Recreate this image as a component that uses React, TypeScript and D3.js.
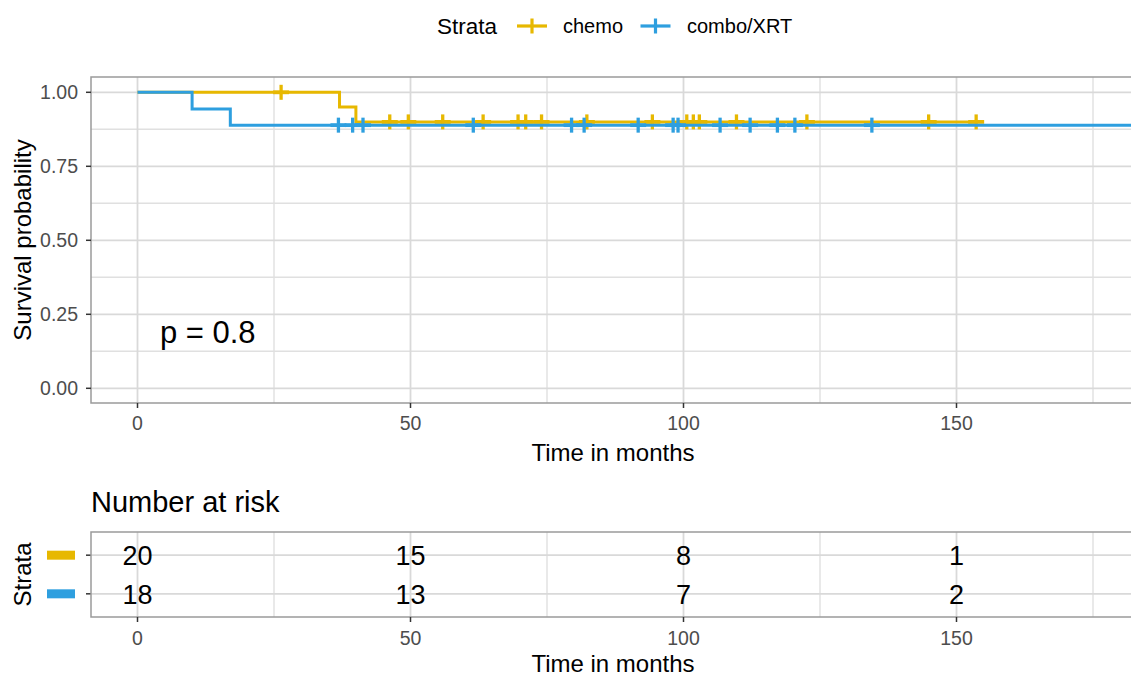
import { useEffect, useRef } from 'react';
import * as d3 from 'd3';

// strata
const strata = ['chemo', 'combo/XRT'];
const colors = ['#E7B800', '#2E9FDF'];

// Kaplan-Meier steps
const chemoStepTimes = [0, 37, 40];
const chemoStepSurv = [1, 0.95, 0.9];
const chemoEnd = 153.6;
const chemoCensor = [26.3, 46.2, 49.6, 55.9, 63.3, 69.7, 71.1, 74.0, 82.3, 94.3, 100.6, 101.8, 102.9, 109.7, 122.6, 144.9, 153.6];

const comboStepTimes = [0, 10, 17];
const comboStepSurv = [1, 0.944, 0.889];
const comboEnd = 190;
const comboCensor = [36.8, 39.4, 41.3, 61.5, 79.5, 81.8, 91.7, 98.1, 99.0, 106.7, 112.2, 117.2, 120.4, 134.5, 185, 190];

// number at risk table
const riskTimes = [0, 50, 100, 150];
const chemoRisk = [20, 15, 8, 1];
const comboRisk = [18, 13, 7, 2];

const xTicks = [0, 50, 100, 150];
const xMinor = [25, 75, 125, 175];
const yTicks = [0, 0.25, 0.5, 0.75, 1];
const yMinor = [0.125, 0.375, 0.625, 0.875];

const FONT = "'Liberation Sans', Arial, Helvetica, sans-serif";

const App = () => {
  const ref = useRef<SVGSVGElement>(null);
  const width = 1131;
  const height = 676;

  useEffect(() => {
    const svg = d3.select(ref.current);
    svg.selectAll('*').remove();

    const panelLeft = 91;
    const panelRight = 1142;
    const mainTop = 77;
    const mainBottom = 403;

    const x = d3.scaleLinear().domain([0, 150]).range([137.5, 956.5]);
    const y = d3.scaleLinear().domain([0, 1]).range([388.3, 92.3]);

    svg.append('defs').append('clipPath').attr('id', 'mainclip')
      .append('rect')
      .attr('x', panelLeft).attr('y', mainTop)
      .attr('width', panelRight - panelLeft).attr('height', mainBottom - mainTop);

    // ---- main panel grid
    const grid = svg.append('g');
    grid.selectAll('line.xmin').data(xMinor).join('line')
      .attr('x1', d => x(d)).attr('x2', d => x(d))
      .attr('y1', mainTop).attr('y2', mainBottom)
      .attr('stroke', '#e0e0e0').attr('stroke-width', 1.4);
    grid.selectAll('line.ymin').data(yMinor).join('line')
      .attr('x1', panelLeft).attr('x2', panelRight)
      .attr('y1', d => y(d)).attr('y2', d => y(d))
      .attr('stroke', '#e0e0e0').attr('stroke-width', 1.4);
    grid.selectAll('line.xmaj').data(xTicks).join('line')
      .attr('x1', d => x(d)).attr('x2', d => x(d))
      .attr('y1', mainTop).attr('y2', mainBottom)
      .attr('stroke', '#d9d9d9').attr('stroke-width', 1.8);
    grid.selectAll('line.ymaj').data(yTicks).join('line')
      .attr('x1', panelLeft).attr('x2', panelRight)
      .attr('y1', d => y(d)).attr('y2', d => y(d))
      .attr('stroke', '#d9d9d9').attr('stroke-width', 1.8);

    // ---- curves
    const curves = [
      { times: chemoStepTimes, surv: chemoStepSurv, end: chemoEnd, censor: chemoCensor },
      { times: comboStepTimes, surv: comboStepSurv, end: comboEnd, censor: comboCensor },
    ];
    const plot = svg.append('g').attr('clip-path', 'url(#mainclip)');
    const line = d3.line<[number, number]>()
      .x(d => x(d[0])).y(d => y(d[1]))
      .curve(d3.curveStepAfter);

    curves.forEach((c, i) => {
      const pts: [number, number][] = c.times.map((t, j) => [t, c.surv[j]]);
      pts.push([c.end, c.surv[c.surv.length - 1]]);
      plot.append('path')
        .attr('d', line(pts))
        .attr('fill', 'none')
        .attr('stroke', colors[i])
        .attr('stroke-width', 3);

      const survAt = (t: number) => c.surv[d3.bisectRight(c.times, t) - 1];
      const marks = plot.append('g').selectAll('g').data(c.censor).join('g')
        .attr('transform', d => `translate(${x(d)},${y(survAt(d))})`);
      marks.append('line').attr('x1', -8).attr('x2', 8).attr('y1', 0).attr('y2', 0)
        .attr('stroke', colors[i]).attr('stroke-width', 3.8);
      marks.append('line').attr('x1', 0).attr('x2', 0).attr('y1', -7.5).attr('y2', 7.5)
        .attr('stroke', colors[i]).attr('stroke-width', 3.3);
    });

    // panel border
    svg.append('rect')
      .attr('x', panelLeft).attr('y', mainTop)
      .attr('width', panelRight - panelLeft).attr('height', mainBottom - mainTop)
      .attr('fill', 'none').attr('stroke', '#9a9a9a').attr('stroke-width', 1.5);

    // y axis
    const yAxis = svg.append('g');
    yAxis.selectAll('line').data(yTicks).join('line')
      .attr('x1', panelLeft - 5).attr('x2', panelLeft)
      .attr('y1', d => y(d)).attr('y2', d => y(d))
      .attr('stroke', '#333').attr('stroke-width', 1.5);
    yAxis.selectAll('text').data(yTicks).join('text')
      .attr('x', 78).attr('y', d => y(d) + 7)
      .attr('text-anchor', 'end')
      .attr('font-size', 19.5).attr('fill', '#4d4d4d')
      .text(d => d3.format('.2f')(d));

    // x axis
    const xAxis = svg.append('g');
    xAxis.selectAll('line').data(xTicks).join('line')
      .attr('x1', d => x(d)).attr('x2', d => x(d))
      .attr('y1', mainBottom).attr('y2', mainBottom + 5)
      .attr('stroke', '#333').attr('stroke-width', 1.5);
    xAxis.selectAll('text').data(xTicks).join('text')
      .attr('x', d => x(d)).attr('y', 430)
      .attr('text-anchor', 'middle')
      .attr('font-size', 19.5).attr('fill', '#4d4d4d')
      .text(d => d);

    svg.append('text')
      .attr('x', 613).attr('y', 461)
      .attr('text-anchor', 'middle').attr('font-size', 24)
      .text('Time in months');

    svg.append('text')
      .attr('transform', `translate(31,${(mainTop + mainBottom) / 2}) rotate(-90)`)
      .attr('text-anchor', 'middle').attr('font-size', 24)
      .text('Survival probability');

    svg.append('text')
      .attr('x', x(4.1)).attr('y', y(0.19) + 11)
      .attr('font-size', 31)
      .text('p = 0.8');

    // ---- legend
    const legend = svg.append('g');
    legend.append('text').attr('x', 437).attr('y', 34).attr('font-size', 22.5).text('Strata');
    const keyX = [532, 655.5];
    const labelX = [563, 687];
    strata.forEach((s, i) => {
      legend.append('line')
        .attr('x1', keyX[i] - 15).attr('x2', keyX[i] + 15).attr('y1', 26).attr('y2', 26)
        .attr('stroke', colors[i]).attr('stroke-width', 3.2);
      legend.append('line')
        .attr('x1', keyX[i]).attr('x2', keyX[i]).attr('y1', 18.5).attr('y2', 33.5)
        .attr('stroke', colors[i]).attr('stroke-width', 3.2);
      legend.append('text').attr('x', labelX[i]).attr('y', 33).attr('font-size', 20).text(s);
    });

    // ---- risk table
    const riskTop = 532;
    const riskBottom = 617;
    const ry = d3.scaleLinear().domain([0.4, 2.6]).range([riskBottom, riskTop]);
    const rows = [2, 1];

    svg.append('text').attr('x', 91).attr('y', 512).attr('font-size', 29).text('Number at risk');

    const rg = svg.append('g');
    rg.selectAll('line.xmin').data(xMinor).join('line')
      .attr('x1', d => x(d)).attr('x2', d => x(d))
      .attr('y1', riskTop).attr('y2', riskBottom)
      .attr('stroke', '#e0e0e0').attr('stroke-width', 1.4);
    rg.selectAll('line.xmaj').data(xTicks).join('line')
      .attr('x1', d => x(d)).attr('x2', d => x(d))
      .attr('y1', riskTop).attr('y2', riskBottom)
      .attr('stroke', '#d9d9d9').attr('stroke-width', 1.8);
    rg.selectAll('line.row').data(rows).join('line')
      .attr('x1', panelLeft).attr('x2', panelRight)
      .attr('y1', d => ry(d)).attr('y2', d => ry(d))
      .attr('stroke', '#d9d9d9').attr('stroke-width', 1.8);

    [chemoRisk, comboRisk].forEach((vals, i) => {
      rg.append('g').selectAll('text').data(vals).join('text')
        .attr('x', (_, j) => x(riskTimes[j]))
        .attr('y', ry(rows[i]) + 10)
        .attr('text-anchor', 'middle')
        .attr('font-size', 27)
        .text(d => d);
      rg.append('rect')
        .attr('x', 47).attr('y', ry(rows[i]) - 4.5)
        .attr('width', 28).attr('height', 9)
        .attr('fill', colors[i]);
      rg.append('line')
        .attr('x1', panelLeft - 5).attr('x2', panelLeft)
        .attr('y1', ry(rows[i])).attr('y2', ry(rows[i]))
        .attr('stroke', '#333').attr('stroke-width', 1.5);
    });

    svg.append('rect')
      .attr('x', panelLeft).attr('y', riskTop)
      .attr('width', panelRight - panelLeft).attr('height', riskBottom - riskTop)
      .attr('fill', 'none').attr('stroke', '#9a9a9a').attr('stroke-width', 1.5);

    const rxAxis = svg.append('g');
    rxAxis.selectAll('line').data(xTicks).join('line')
      .attr('x1', d => x(d)).attr('x2', d => x(d))
      .attr('y1', riskBottom).attr('y2', riskBottom + 5)
      .attr('stroke', '#333').attr('stroke-width', 1.5);
    rxAxis.selectAll('text').data(xTicks).join('text')
      .attr('x', d => x(d)).attr('y', 645)
      .attr('text-anchor', 'middle')
      .attr('font-size', 19.5).attr('fill', '#4d4d4d')
      .text(d => d);

    svg.append('text')
      .attr('x', 613).attr('y', 672)
      .attr('text-anchor', 'middle').attr('font-size', 24)
      .text('Time in months');

    svg.append('text')
      .attr('transform', `translate(31,${(riskTop + riskBottom) / 2}) rotate(-90)`)
      .attr('text-anchor', 'middle').attr('font-size', 24)
      .text('Strata');
  }, []);

  return (
    <>
      <style>{'body{margin:0}'}</style>
      <svg
        ref={ref}
        width={width}
        height={height}
        viewBox={`0 0 ${width} ${height}`}
        style={{ display: 'block', fontFamily: FONT, background: '#fff' }}
      />
    </>
  );
};

export default App;
